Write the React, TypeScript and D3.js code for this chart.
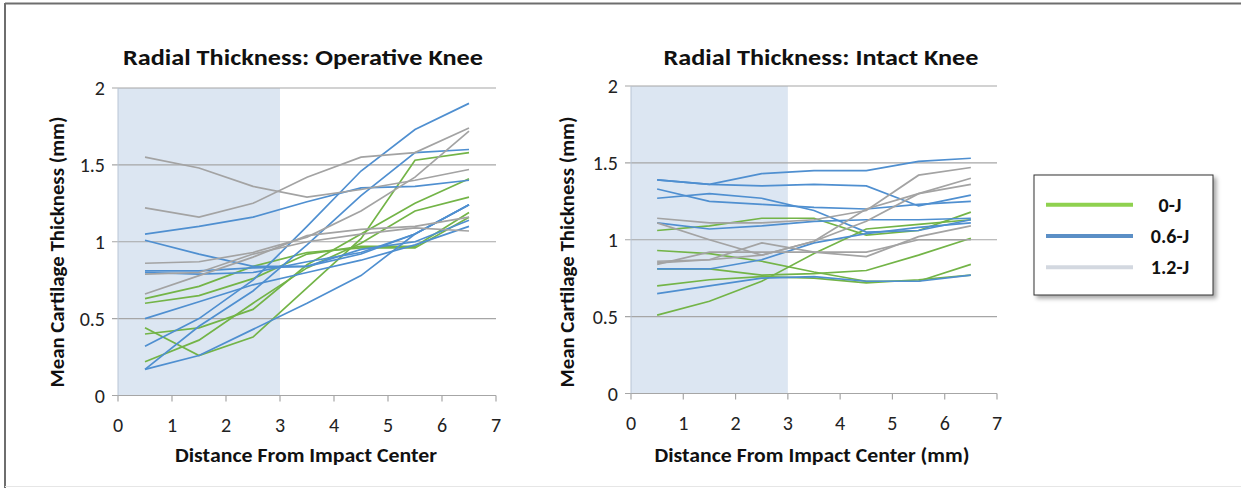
import * as d3 from 'd3';

// distance (mm) of each radial sample from the impact centre
const distances = [0.5, 1.5, 2.5, 3.5, 4.5, 5.5, 6.5];
const yTickValues = [0, 0.5, 1, 1.5, 2];
const xTickValues = [0, 1, 2, 3, 4, 5, 6, 7];

// Operative knee, one row per specimen
const operative0J = [
  [0.63, 0.71, 0.84, 0.93, 0.96, 0.96, 1.16],
  [0.6, 0.65, 0.76, 0.92, 0.97, 0.97, 1.19],
  [0.44, 0.26, 0.38, 0.7, 1.02, 1.53, 1.58],
  [0.4, 0.44, 0.56, 0.85, 1.05, 1.25, 1.41],
  [0.22, 0.36, 0.6, 0.83, 0.99, 1.2, 1.29],
];
const operative06J = [
  [1.05, 1.1, 1.16, 1.26, 1.35, 1.36, 1.4],
  [1.01, 0.92, 0.84, 0.84, 0.92, 1.05, 1.24],
  [0.81, 0.81, 0.83, 0.84, 0.95, 1.0, 1.14],
  [0.8, 0.79, 0.8, 0.87, 0.93, 1.05, 1.24],
  [0.5, 0.61, 0.72, 0.8, 0.88, 0.98, 1.1],
  [0.32, 0.5, 0.75, 1.1, 1.46, 1.73, 1.9],
  [0.17, 0.45, 0.68, 0.98, 1.3, 1.58, 1.6],
  [0.17, 0.26, 0.43, 0.6, 0.78, 1.05, 1.24],
];
const operative12J = [
  [1.55, 1.48, 1.36, 1.29, 1.34, 1.4, 1.47],
  [1.22, 1.16, 1.25, 1.42, 1.55, 1.58, 1.74],
  [0.86, 0.87, 0.93, 1.03, 1.2, 1.42, 1.72],
  [0.79, 0.8, 0.92, 1.0, 1.05, 1.09, 1.07],
  [0.66, 0.78, 0.9, 1.04, 1.08, 1.1, 1.16],
];

// Intact (contralateral) knee
const intact0J = [
  [1.06, 1.09, 1.14, 1.14, 1.03, 1.06, 1.18],
  [0.93, 0.91, 0.86, 0.79, 0.73, 0.73, 0.84],
  [0.81, 0.81, 0.77, 0.78, 0.8, 0.9, 1.01],
  [0.7, 0.74, 0.76, 0.75, 0.72, 0.74, 0.77],
  [0.51, 0.6, 0.73, 0.91, 1.07, 1.1, 1.13],
];
const intact06J = [
  [1.39, 1.36, 1.43, 1.45, 1.45, 1.51, 1.53],
  [1.39, 1.36, 1.35, 1.36, 1.35, 1.22, 1.29],
  [1.33, 1.25, 1.23, 1.21, 1.2, 1.23, 1.25],
  [1.27, 1.3, 1.27, 1.19, 1.05, 1.06, 1.13],
  [1.11, 1.07, 1.09, 1.12, 1.13, 1.13, 1.14],
  [0.81, 0.81, 0.87, 0.98, 1.04, 1.08, 1.11],
  [0.65, 0.7, 0.75, 0.76, 0.73, 0.73, 0.77],
];
const intact12J = [
  [1.14, 1.11, 1.11, 1.13, 1.19, 1.42, 1.47],
  [1.11, 1.0, 0.9, 0.99, 1.2, 1.3, 1.4],
  [0.86, 0.87, 0.9, 0.99, 1.12, 1.3, 1.36],
  [0.85, 0.87, 0.98, 0.92, 0.92, 1.0, 1.0],
  [0.84, 0.92, 0.92, 0.92, 0.89, 1.02, 1.09],
];

const legendLabels = ['0-J', '0.6-J', '1.2-J'];
const lineColors = ['#73b447', '#4f8fd0', '#a3a3a3'];
const legendColors = ['#8fd14f', '#5b8fc6', '#d3d8e0'];

const FONT = 'Carlito, Calibri, Lato, sans-serif';

interface PanelProps {
  title: string;
  titleX: number;
  titleLen: number;
  xLabel: string;
  xLabelX: number;
  xLabelLen: number;
  yLabelX: number;
  groups: number[][][];
  left: number;
  right: number;
  top: number;
  bottom: number;
}

function Panel(p: PanelProps) {
  const { left, right, top, bottom } = p;
  const x = d3.scaleLinear().domain([0, 7]).range([left, right]);
  const y = d3.scaleLinear().domain([0, 2]).range([bottom, top]);
  const line = d3
    .line<number>()
    .x((_, i) => x(distances[i]))
    .y(d => y(d));

  return (
    <g>
      {/* impact zone shading */}
      <rect x={x(0)} y={y(2)} width={x(3) - x(0)} height={y(0) - y(2)} fill="#dce6f2" />

      {yTickValues.map(t => (
        <g key={t}>
          <line x1={x(0) - 6} x2={x(7)} y1={y(t)} y2={y(t)} stroke="#a6a6a6" strokeWidth={1.2} />
          <text x={x(0) - 13} y={y(t)} dy="0.35em" textAnchor="end" fontSize={20} fill="#222">
            {t}
          </text>
        </g>
      ))}
      <line x1={x(0)} x2={x(0)} y1={y(2)} y2={y(0)} stroke="#b8c4d4" strokeWidth={1} />
      {xTickValues.map(t => (
        <g key={t}>
          <line x1={x(t)} x2={x(t)} y1={y(0)} y2={y(0) + 6} stroke="#a6a6a6" strokeWidth={1.2} />
          <text x={x(t)} y={y(0) + 36} textAnchor="middle" fontSize={20} fill="#222">
            {t}
          </text>
        </g>
      ))}

      {p.groups.map((rows, gi) =>
        rows.map((r, ri) => (
          <path key={`${gi}-${ri}`} d={line(r) ?? ''} fill="none" stroke={lineColors[gi]} strokeWidth={1.7} />
        ))
      )}

      <text
        x={p.titleX}
        y={65}
        textAnchor="middle"
        fontSize={23}
        fontWeight="bold"
        fill="#111"
        textLength={p.titleLen}
        lengthAdjust="spacingAndGlyphs"
      >
        {p.title}
      </text>
      <text
        x={p.xLabelX}
        y={462}
        textAnchor="middle"
        fontSize={20}
        fontWeight="bold"
        fill="#111"
        textLength={p.xLabelLen}
        lengthAdjust="spacingAndGlyphs"
      >
        {p.xLabel}
      </text>
      <text
        transform={`translate(${p.yLabelX},252) rotate(-90)`}
        textAnchor="middle"
        fontSize={20}
        fontWeight="bold"
        fill="#111"
        textLength={271}
        lengthAdjust="spacingAndGlyphs"
      >
        Mean Cartilage Thickness (mm)
      </text>
    </g>
  );
}

export default function App() {
  const legendY = d3.scaleBand<string>().domain(legendLabels).range([189, 283]);
  return (
    <svg
      width={1241}
      height={488}
      style={{ position: 'absolute', left: 0, top: 0, background: '#fff' }}
      fontFamily={FONT}
    >
      <defs>
        <filter id="shadow" x="-10%" y="-10%" width="130%" height="130%">
          <feDropShadow dx={3} dy={3} stdDeviation={2} floodColor="#000" floodOpacity={0.35} />
        </filter>
      </defs>
      <rect x={0} y={0} width={1241} height={488} fill="#fff" />
      {/* outer frame */}
      <line x1={5} x2={5} y1={3} y2={488} stroke="#6e6e6e" strokeWidth={2} />
      <line x1={5} x2={1241} y1={3.5} y2={3.5} stroke="#6e6e6e" strokeWidth={2} />
      <line x1={5} x2={1241} y1={486.5} y2={486.5} stroke="#e6e6e6" strokeWidth={1} />

      <Panel
        title="Radial Thickness: Operative Knee"
        titleX={303}
        titleLen={360}
        xLabel="Distance From Impact Center"
        xLabelX={306}
        xLabelLen={262}
        yLabelX={64}
        groups={[operative0J, operative06J, operative12J]}
        left={118}
        right={496}
        top={88}
        bottom={395.5}
      />
      <Panel
        title="Radial Thickness: Intact Knee"
        titleX={821}
        titleLen={315}
        xLabel="Distance From Impact Center (mm)"
        xLabelX={812}
        xLabelLen={315}
        yLabelX={574}
        groups={[intact0J, intact06J, intact12J]}
        left={631}
        right={997}
        top={86}
        bottom={393.5}
      />

      <rect x={1034} y={175} width={179} height={120} fill="#fff" stroke="#333" strokeWidth={1} filter="url(#shadow)" />
      {legendLabels.map((l, i) => {
        const yy = (legendY(l) ?? 0) + legendY.bandwidth() / 2;
        return (
          <g key={l}>
            <line x1={1046} x2={1133} y1={yy} y2={yy} stroke={legendColors[i]} strokeWidth={4} />
            <text x={1170} y={yy} dy="0.35em" textAnchor="middle" fontSize={20} fontWeight="bold" fill="#111">
              {l}
            </text>
          </g>
        );
      })}
    </svg>
  );
}
